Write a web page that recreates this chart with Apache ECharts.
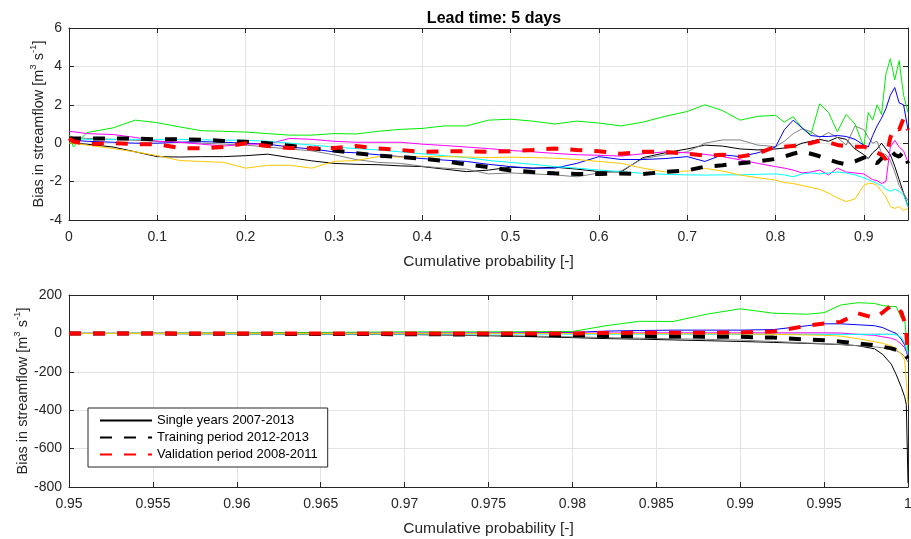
<!DOCTYPE html>
<html>
<head>
<meta charset="utf-8">
<script src="https://cdn.jsdelivr.net/npm/echarts@6/dist/echarts.min.js"></script>
<style>html,body{margin:0;padding:0;background:#fff}#c{width:911px;height:539px}</style>
</head>
<body>
<div id="c"></div>
<script>
// ---------- data ----------
const titleText = 'Lead time: 5 days';
const xName = 'Cumulative probability [-]';
const legendNames = ['Single years 2007-2013', 'Training period 2012-2013', 'Validation period 2008-2011'];

// top panel: cumulative probability 0 .. 0.95
const xTop = [0, 0.005, 0.02, 0.05, 0.075, 0.1, 0.125, 0.15, 0.175, 0.2, 0.225, 0.25, 0.275, 0.3, 0.325, 0.35, 0.375, 0.4, 0.425, 0.45, 0.475, 0.5, 0.525, 0.55, 0.575, 0.6, 0.625, 0.65, 0.675, 0.7, 0.72, 0.74, 0.76, 0.78, 0.8, 0.81, 0.82, 0.83, 0.84, 0.85, 0.86, 0.87, 0.88, 0.89, 0.9, 0.905, 0.91, 0.915, 0.92, 0.925, 0.93, 0.935, 0.94, 0.945, 0.95];

const blackTop = [0.0, 0.0, -0.05, -0.2, -0.45, -0.7, -0.72, -0.7, -0.7, -0.65, -0.57, -0.75, -0.92, -1.05, -1.1, -1.12, -1.18, -1.22, -1.35, -1.48, -1.4, -1.25, -1.3, -1.25, -1.35, -1.48, -1.5, -0.75, -0.5, -0.3, -0.1, -0.15, -0.3, -0.35, -0.3, -0.25, -0.2, 0.0, 0.1, 0.2, 0.1, 0.3, 0.2, -0.3, -0.6, -0.8, -0.5, -0.3, 0.0, -0.3, -0.6, -1.2, -1.9, -2.6, -3.3];
const grayTop = [0.4, 0.3, 0.25, 0.2, 0.15, 0.1, 0.05, 0.0, -0.05, -0.1, -0.2, -0.3, -0.4, -0.6, -0.85, -1.0, -1.05, -1.2, -1.3, -1.35, -1.6, -1.55, -1.6, -1.65, -1.75, -1.55, -1.45, -0.8, -0.6, -0.45, 0.0, 0.17, 0.17, -0.1, -0.18, 0.1, 0.5, 0.75, 0.6, 0.3, 0.55, 0.3, -0.1, 0.9, 0.7, 0.3, 0.0, 0.1, -0.5, -0.6, -0.9, -1.5, -2.2, -2.6, -3.0];
const greenTop = [0.4, -0.2, 0.55, 0.8, 1.2, 1.07, 0.85, 0.65, 0.62, 0.58, 0.5, 0.42, 0.42, 0.5, 0.48, 0.62, 0.72, 0.77, 0.9, 0.9, 1.2, 1.25, 1.15, 1.0, 1.15, 1.05, 0.9, 1.1, 1.4, 1.65, 2.0, 1.7, 1.2, 1.4, 1.45, 1.1, 1.38, 0.8, 0.45, 2.05, 1.6, 0.6, 1.5, 1.0, -0.2, 1.6, 1.2, 2.0, 1.5, 3.6, 4.4, 3.3, 4.3, 2.5, 1.6];
const blueTop = [0.2, 0.15, 0.1, 0.05, 0.0, 0.0, 0.05, 0.08, 0.05, 0.0, -0.05, -0.2, -0.3, -0.45, -0.5, -0.6, -0.7, -0.8, -0.88, -0.95, -1.1, -1.22, -1.3, -1.3, -1.05, -0.7, -0.85, -0.85, -0.8, -0.7, -0.95, -0.6, -0.7, -0.5, -0.2, 0.7, 1.2, 0.8, 0.4, 0.35, 0.35, 0.4, 0.35, 0.2, -0.1, -0.2, 0.4, 0.9, 1.3, 1.8, 2.5, 2.9, 2.1, 2.0, 0.7];
const magentaTop = [0.6, 0.6, 0.5, 0.45, 0.3, 0.1, 0.05, -0.05, -0.15, -0.05, -0.05, 0.25, 0.2, 0.1, 0.05, 0.05, 0.05, -0.05, -0.12, -0.2, -0.28, -0.38, -0.45, -0.53, -0.6, -0.63, -0.67, -0.55, -0.45, -0.5, -0.58, -0.7, -0.87, -1.05, -1.22, -1.3, -1.4, -1.55, -1.5, -1.4, -1.65, -1.3, -1.5, -1.55, -1.6, -1.75, -1.9, -1.95, -2.1, -2.0, -0.2, 0.15, -0.2, -0.4, -1.0];
const cyanTop = [0.3, 0.25, 0.2, 0.2, 0.2, 0.2, 0.2, 0.18, 0.16, 0.15, 0.1, 0.0, -0.1, -0.2, -0.28, -0.35, -0.45, -0.55, -0.65, -0.75, -0.9, -1.0, -1.1, -1.22, -1.3, -1.4, -1.48, -1.57, -1.62, -1.65, -1.66, -1.65, -1.65, -1.62, -1.6, -1.65, -1.75, -1.6, -1.55, -1.6, -1.55, -1.5, -1.55, -1.65, -1.8, -1.9, -2.0, -2.1, -2.2, -2.4, -2.5, -2.4, -2.5, -2.7, -3.3];
const yellowTop = [0.0, 0.0, -0.1, -0.28, -0.45, -0.65, -0.9, -0.95, -1.0, -1.3, -1.15, -1.15, -1.3, -0.95, -0.9, -0.7, -0.72, -0.7, -0.7, -0.72, -0.75, -0.73, -0.75, -0.78, -0.85, -0.95, -1.05, -1.3, -1.5, -1.45, -1.31, -1.45, -1.66, -1.8, -1.92, -2.05, -2.1, -2.2, -2.3, -2.4, -2.6, -2.85, -3.04, -2.9, -2.2, -2.09, -2.1, -2.2, -2.5, -2.8, -3.3, -3.4, -3.3, -3.5, -3.4];
const trainTop = [0.25, 0.25, 0.25, 0.25, 0.25, 0.2, 0.2, 0.18, 0.12, 0.07, 0.0, -0.13, -0.27, -0.38, -0.52, -0.65, -0.72, -0.8, -0.93, -1.1, -1.25, -1.42, -1.5, -1.57, -1.6, -1.6, -1.58, -1.6, -1.5, -1.42, -1.22, -1.15, -1.05, -0.95, -0.82, -0.7, -0.55, -0.44, -0.55, -0.68, -0.85, -1.0, -1.1, -0.95, -0.75, -0.7, -0.95, -1.04, -0.8, -0.5, -0.35, -0.6, -0.7, -0.45, -1.05];
const validTop = [0.25, 0.1, -0.05, 0.0, -0.05, -0.05, -0.25, -0.27, -0.2, 0.0, -0.15, -0.25, -0.27, -0.25, -0.15, -0.27, -0.35, -0.45, -0.42, -0.42, -0.45, -0.42, -0.35, -0.27, -0.35, -0.42, -0.55, -0.45, -0.45, -0.55, -0.65, -0.6, -0.7, -0.53, -0.18, -0.18, -0.15, -0.05, 0.0, 0.13, 0.05, -0.09, -0.15, -0.18, -0.18, -0.25, -0.35, -0.5, -0.6, -0.85, 0.3, 0.8, 0.7, 1.29, 0.69];

// bottom panel: cumulative probability 0.95 .. 1
const xBot = [0.95, 0.955, 0.96, 0.965, 0.97, 0.975, 0.98, 0.982, 0.984, 0.986, 0.988, 0.99, 0.992, 0.994, 0.995, 0.996, 0.997, 0.998, 0.9985, 0.999, 0.9993, 0.9996, 0.9998, 0.9999, 1.0];

const blackBot = [0, -1, -2, -3, -5, -12, -22, -27, -30, -34, -38, -42, -47, -52, -55, -58, -64, -80, -110, -160, -215, -280, -330, -370, -780];
const grayBot = [0, -1, -3, -4, -6, -10, -18, -22, -25, -28, -31, -35, -42, -50, -53, -58, -64, -70, -75, -82, -90, -105, -120, -135, -150];
const greenBot = [0, 2, 3, 5, 8, 8, 10, 40, 63, 62, 100, 128, 105, 100, 108, 148, 160, 156, 145, 140, 140, 80, 72, 70, -100];
const blueBot = [0, 0, 0, 0, 1, 2, 5, 12, 15, 17, 17, 17, 20, 40, 50, 50, 45, 40, 30, 10, 0, -30, -60, -90, -125];
const magentaBot = [0, 0, 0, 0, 1, 1, 2, 2, 3, 3, 3, 3, 3, 3, 3, 2, -5, -10, -18, -25, -35, -55, -75, -95, -120];
const cyanBot = [0, -1, -2, -2, -3, -3, -4, -4, -4, -4, -5, -5, -5, -5, -5, -5, -5, -5, -5, -5, -8, -20, -50, -80, -110];
const yellowBot = [0, 0, 0, 0, 0, 0, 0, -1, -1, -2, -2, -3, -5, -8, -10, -14, -28, -43, -52, -65, -80, -110, -140, -250, -370];
const trainBot = [0, -1, -2, -3, -4, -6, -10, -13, -15, -16, -17, -18, -22, -32, -36, -43, -52, -62, -70, -78, -86, -95, -110, -120, -130];
const validBot = [0, 0, 0, 0, 0, 0, 0, 2, 3, 3, 3, 5, 10, 40, 52, 60, 105, 80, 110, 145, 140, 110, 60, 0, -120];

// ---------- chart ----------
const ink = '#262626';
const font = 'Liberation Sans, Arial, Helvetica, sans-serif';
const pairs = (xs, ys) => xs.map((x, i) => [x, ys[i]]);

const lines = [
  { name: legendNames[0], color: '#000000', width: 1, type: 'solid', top: blackTop, bot: blackBot },
  { name: 'year b', color: '#808080', width: 1, type: 'solid', top: grayTop, bot: grayBot },
  { name: 'year c', color: '#00ee00', width: 1, type: 'solid', top: greenTop, bot: greenBot },
  { name: 'year d', color: '#0000ff', width: 1, type: 'solid', top: blueTop, bot: blueBot },
  { name: 'year e', color: '#ff00ff', width: 1, type: 'solid', top: magentaTop, bot: magentaBot },
  { name: 'year f', color: '#00ffff', width: 1, type: 'solid', top: cyanTop, bot: cyanBot },
  { name: 'year g', color: '#ffc800', width: 1, type: 'solid', top: yellowTop, bot: yellowBot },
  { name: legendNames[1], color: '#000000', width: 4, type: [12, 12], top: trainTop, bot: trainBot },
  { name: legendNames[2], color: '#ff0000', width: 4, type: [12, 12], top: validTop, bot: validBot }
];

const series = [];
lines.forEach((l, k) => {
  [[0, l.top, xTop], [1, l.bot, xBot]].forEach(([g, ys, xs]) => {
    series.push({
      type: 'line', name: l.name, xAxisIndex: g, yAxisIndex: g,
      data: pairs(xs, ys), symbol: 'none', showSymbol: false, clip: true,
      z: 2 + k * 0.01,
      lineStyle: { color: l.color, width: l.width, type: l.type, cap: 'butt' },
      itemStyle: { color: l.color }
    });
  });
});

function xAx(g, min, max, interval, main) {
  return {
    gridIndex: g, type: 'value', min, max, interval,
    position: main ? 'bottom' : 'top',
    name: main ? xName : '', nameLocation: 'middle', nameGap: 34, nameMoveOverlap: false,
    nameTextStyle: { fontSize: 15.5, color: ink, fontFamily: font },
    axisLine: { show: true, onZero: false, lineStyle: { color: ink, width: 1 } },
    axisTick: { show: true, inside: true, length: 5, lineStyle: { color: ink } },
    axisLabel: { show: main, color: ink, fontSize: 14, margin: 10, fontFamily: font, showMaxLabel: g === 1 },
    splitLine: { show: main, lineStyle: { color: '#e3e3e3', width: 1 } }
  };
}
function yAx(g, min, max, interval, main, gap) {
  return {
    gridIndex: g, type: 'value', min, max, interval,
    position: main ? 'left' : 'right',
    name: main ? '{a|Bias in streamflow [m}{s|3}{a| s}{s|-1}{a|]}' : '',
    nameLocation: 'middle', nameRotate: 90, nameGap: gap, nameMoveOverlap: false,
    nameTextStyle: {
      color: ink, fontFamily: font,
      rich: {
        a: { fontSize: 14.5, color: ink, fontFamily: font, verticalAlign: 'bottom', lineHeight: 18 },
        s: { fontSize: 9.5, color: ink, fontFamily: font, verticalAlign: 'top', lineHeight: 18 }
      }
    },
    axisLine: { show: true, onZero: false, lineStyle: { color: ink, width: 1 } },
    axisTick: { show: true, inside: true, length: 5, lineStyle: { color: ink } },
    axisLabel: { show: main, color: ink, fontSize: 14, margin: 7, fontFamily: font },
    splitLine: { show: main, lineStyle: { color: '#e3e3e3', width: 1 } }
  };
}

const option = {
  animation: false,
  backgroundColor: '#ffffff',
  textStyle: { fontFamily: font },
  title: {
    text: titleText, left: 489, top: 6, textAlign: 'center',
    textStyle: { fontSize: 16, fontWeight: 'bold', color: '#000', fontFamily: font }
  },
  grid: [
    { left: 69, top: 28, width: 839, height: 192, outerBoundsMode: 'none', containLabel: false },
    { left: 69, top: 295, width: 839, height: 192, outerBoundsMode: 'none', containLabel: false }
  ],
  xAxis: [
    xAx(0, 0, 0.95, 0.1, true),
    xAx(1, 0.95, 1, 0.005, true),
    xAx(0, 0, 0.95, 0.1, false),
    xAx(1, 0.95, 1, 0.005, false)
  ],
  yAxis: [
    yAx(0, -4, 6, 2, true, 23),
    yAx(1, -800, 200, 200, true, 39),
    yAx(0, -4, 6, 2, false, 0),
    yAx(1, -800, 200, 200, false, 0)
  ],
  legend: {
    data: legendNames, orient: 'vertical', left: 88, top: 408,
    itemWidth: 52, itemHeight: 14, itemGap: 4,
    padding: [6, 10, 6, 11],
    backgroundColor: '#ffffff', borderColor: ink, borderWidth: 1, borderRadius: 0,
    selectedMode: false,
    itemStyle: { opacity: 0, borderWidth: 0 },
    textStyle: { fontSize: 13, color: '#000', fontFamily: font }
  },
  series
};

const chart = echarts.init(document.getElementById('c'), null, { renderer: 'canvas' });
chart.setOption(option);
</script>
</body>
</html>
